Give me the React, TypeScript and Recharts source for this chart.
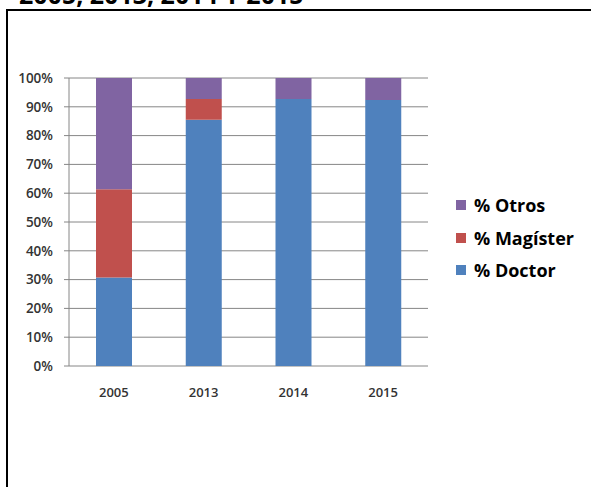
import React from "react";
import { BarChart, Bar, XAxis, YAxis, CartesianGrid } from "recharts";

const years = ["2005", "2013", "2014", "2015"];
const doctor = [30.7, 85.5, 92.7, 92.4];
const magister = [30.7, 7.2, 0, 0];
const otros = [38.6, 7.3, 7.3, 7.6];
const yTicks = [0, 10, 20, 30, 40, 50, 60, 70, 80, 90, 100];
const edgeTicks = [0, 1, 2, 3, 4];

const series = [
  { key: "otros", label: "% Otros", color: "#8064A2" },
  { key: "magister", label: "% Magíster", color: "#C0504D" },
  { key: "doctor", label: "% Doctor", color: "#4F81BD" },
];

const data = years.map((year, i) => ({
  year,
  doctor: doctor[i],
  magister: magister[i],
  otros: otros[i],
}));

const axisGrey = "#868686";
const font = "'Open Sans', sans-serif";

export default function App() {
  return (
    <div
      style={{
        position: "absolute",
        left: 0,
        top: 0,
        width: 591,
        height: 487,
        overflow: "hidden",
        background: "#fff",
        fontFamily: font,
      }}
    >
      <div
        style={{
          position: "absolute",
          left: 19,
          top: -18,
          fontSize: 25,
          lineHeight: "25px",
          fontWeight: 700,
          color: "#000",
          whiteSpace: "nowrap",
        }}
      >
        2005, 2013, 2014 Y 2015
      </div>
      <div
        style={{
          position: "absolute",
          left: 6,
          top: 9,
          width: 600,
          height: 500,
          borderTop: "2px solid #000",
          borderLeft: "2px solid #000",
        }}
      />

      <div style={{ position: "absolute", left: 0, top: 0 }}>
        <BarChart
          width={591}
          height={487}
          data={data}
          margin={{ top: 78, right: 163, bottom: 91, left: 0 }}
          barSize={36}
        >
          <CartesianGrid
            xAxisId="cat"
            vertical={false}
            stroke={axisGrey}
            strokeWidth={1}
          />
          <XAxis
            xAxisId="edge"
            type="number"
            domain={[0, 4]}
            ticks={edgeTicks}
            tickFormatter={() => ""}
            height={0}
            tickSize={5}
            stroke={axisGrey}
            tickLine={{ stroke: axisGrey }}
            axisLine={{ stroke: axisGrey }}
          />
          <XAxis
            xAxisId="cat"
            dataKey="year"
            height={30}
            axisLine={false}
            tickLine={false}
            tickMargin={16}
            tick={{ fill: "#333", fontSize: 13, fontFamily: font, fontWeight: 600 }}
          />
          <YAxis
            domain={[0, 100]}
            ticks={yTicks}
            width={69}
            tickSize={5}
            tickMargin={11}
            tickFormatter={(v: number) => `${v}%`}
            axisLine={{ stroke: axisGrey }}
            tickLine={{ stroke: axisGrey }}
            tick={{ fill: "#333", fontSize: 13.5, fontFamily: font, fontWeight: 600 }}
          />
          <Bar xAxisId="cat" dataKey="doctor" stackId="a" fill="#4F81BD" isAnimationActive={false} />
          <Bar xAxisId="cat" dataKey="magister" stackId="a" fill="#C0504D" isAnimationActive={false} />
          <Bar xAxisId="cat" dataKey="otros" stackId="a" fill="#8064A2" isAnimationActive={false} />
        </BarChart>
      </div>

      <div style={{ position: "absolute", left: 456, top: 189 }}>
        {series.map((s) => (
          <div
            key={s.key}
            style={{ display: "flex", alignItems: "center", height: 32.5 }}
          >
            <span
              style={{
                width: 10,
                height: 10,
                background: s.color,
                display: "inline-block",
                marginRight: 8,
              }}
            />
            <span style={{ fontSize: 18, fontWeight: 700, color: "#000" }}>
              {s.label}
            </span>
          </div>
        ))}
      </div>
    </div>
  );
}
